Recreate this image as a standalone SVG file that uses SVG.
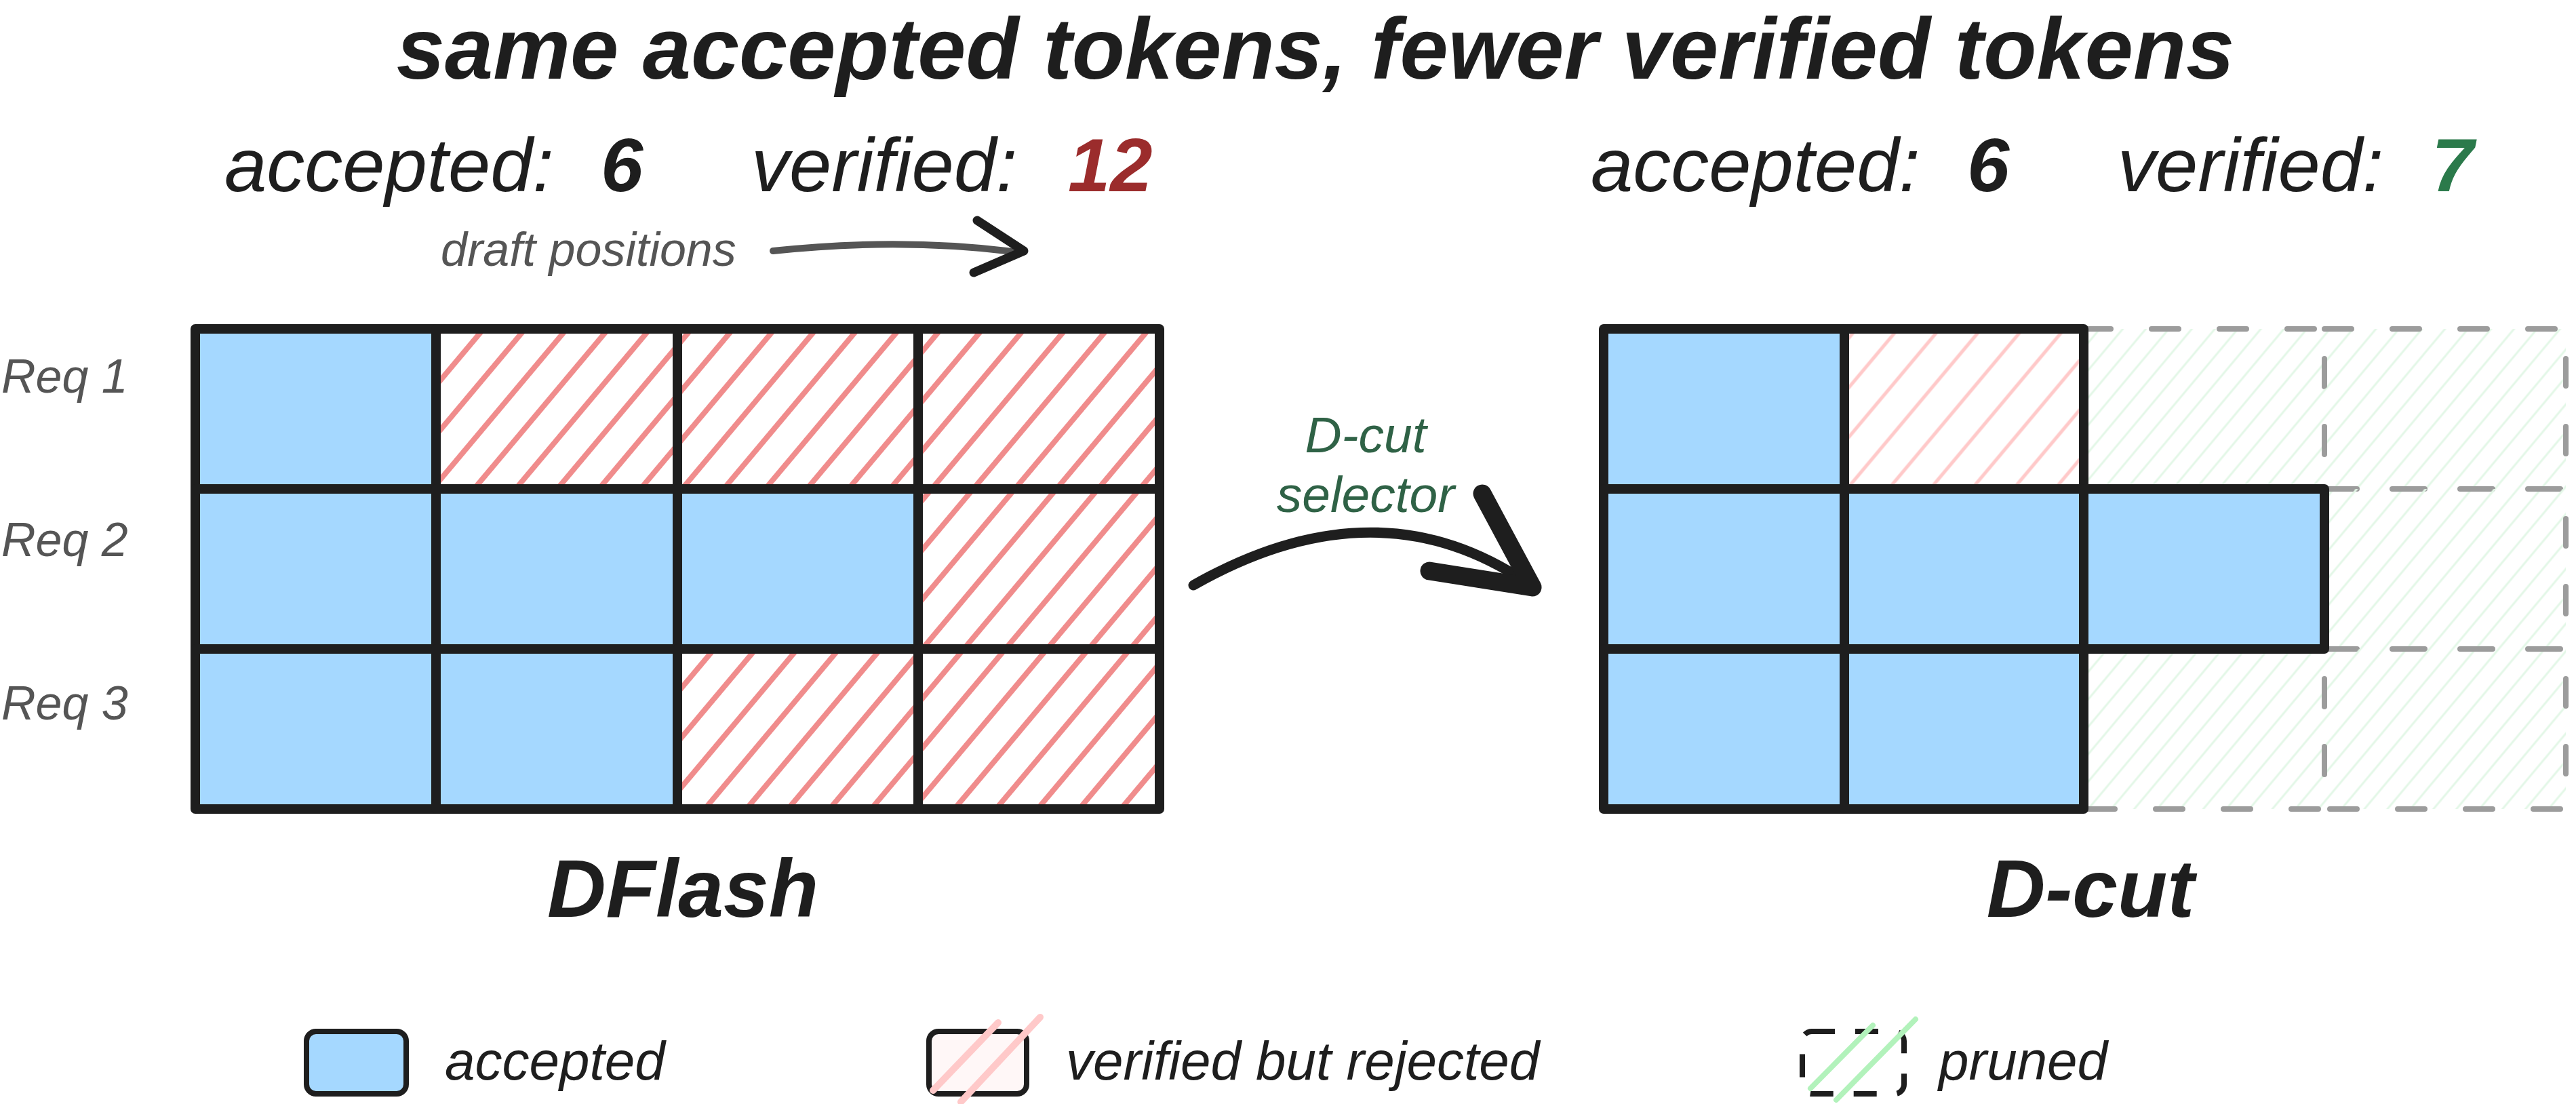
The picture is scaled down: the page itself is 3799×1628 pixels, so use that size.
<svg xmlns="http://www.w3.org/2000/svg" width="3799" height="1628" viewBox="0 0 3799 1628">
<defs>
  <pattern id="hRed" patternUnits="userSpaceOnUse" width="47" height="47" patternTransform="rotate(40)">
    <line x1="12" y1="-2" x2="12" y2="49" stroke="#f08c8c" stroke-width="8"/>
  </pattern>
  <pattern id="hPink" patternUnits="userSpaceOnUse" width="47" height="47" patternTransform="rotate(40)">
    <line x1="12" y1="-2" x2="12" y2="49" stroke="#ffc9c9" stroke-width="5"/>
  </pattern>
  <pattern id="hGreen" patternUnits="userSpaceOnUse" width="26" height="26" patternTransform="rotate(40)">
    <line x1="6" y1="-2" x2="6" y2="28" stroke="#e3f7e7" stroke-width="3"/>
  </pattern>
</defs>
<style>
  text { font-family: "Liberation Sans", Arial, sans-serif; fill: #1e1e1e; }
  .it { font-style: italic; }
  .bi { font-style: italic; font-weight: 700; }
  .stat { font-size: 112px; }
  .req { font-size: 70px; font-style: italic; fill: #555555; }
  .leg { font-size: 80px; font-style: italic; }
  .acc { fill: #a5d8ff; }
  .rej { fill: url(#hRed); }
  .rejl { fill: url(#hPink); }
  .pru { fill: url(#hGreen); }
  .edge { fill: none; stroke: #1e1e1e; stroke-width: 14; stroke-linejoin: round; stroke-linecap: round; }
  .dash { fill: none; stroke: #9c9c9c; stroke-width: 8; stroke-dasharray: 40 60; stroke-linecap: round; }
</style>
<rect width="3799" height="1628" fill="#ffffff"/>

<text x="1940" y="116" text-anchor="middle" font-size="128" class="bi">same accepted tokens, fewer verified tokens</text>

<g id="stats-dflash">
  <text x="331" y="282" class="stat it">accepted:</text>
  <text x="886" y="282" class="stat bi">6</text>
  <text x="1108" y="282" class="stat it">verified:</text>
  <text x="1575" y="282" class="stat bi" style="fill:#9b2c2c">12</text>
</g>
<g id="stats-dcut">
  <text x="2346" y="282" class="stat it">accepted:</text>
  <text x="2901" y="282" class="stat bi">6</text>
  <text x="3123" y="282" class="stat it">verified:</text>
  <text x="3586" y="282" class="stat bi" style="fill:#2b7a4b">7</text>
</g>

<text x="650" y="392" font-size="70" class="it" style="fill:#555555">draft positions</text>

<g id="req-labels">
  <text x="2" y="579" class="req">Req 1</text>
  <text x="2" y="820" class="req">Req 2</text>
  <text x="2" y="1061" class="req">Req 3</text>
</g>

<!-- D-cut pruned cells (drawn first, under solid borders) -->
<g id="dcut-r1c3"><rect class="pru" x="3073" y="485" width="355" height="236"/><rect class="dash" x="3073" y="485" width="355" height="236"/></g>
<g id="dcut-r1c4"><rect class="pru" x="3428" y="485" width="356" height="236"/><rect class="dash" x="3428" y="485" width="356" height="236"/></g>
<g id="dcut-r2c4"><rect class="pru" x="3428" y="721" width="356" height="236"/><rect class="dash" x="3428" y="721" width="356" height="236"/></g>
<g id="dcut-r3c3"><rect class="pru" x="3073" y="957" width="355" height="236"/><rect class="dash" x="3073" y="957" width="355" height="236"/></g>
<g id="dcut-r3c4"><rect class="pru" x="3428" y="957" width="356" height="236"/><rect class="dash" x="3428" y="957" width="356" height="236"/></g>

<!-- DFlash grid -->
<g id="dflash-r1c1"><rect class="acc" x="288" y="485" width="355" height="236"/><rect class="edge" x="288" y="485" width="355" height="236"/></g>
<g id="dflash-r1c2"><rect class="rej" x="643" y="485" width="356" height="236"/><rect class="edge" x="643" y="485" width="356" height="236"/></g>
<g id="dflash-r1c3"><rect class="rej" x="999" y="485" width="355" height="236"/><rect class="edge" x="999" y="485" width="355" height="236"/></g>
<g id="dflash-r1c4"><rect class="rej" x="1354" y="485" width="356" height="236"/><rect class="edge" x="1354" y="485" width="356" height="236"/></g>
<g id="dflash-r2c1"><rect class="acc" x="288" y="721" width="355" height="236"/><rect class="edge" x="288" y="721" width="355" height="236"/></g>
<g id="dflash-r2c2"><rect class="acc" x="643" y="721" width="356" height="236"/><rect class="edge" x="643" y="721" width="356" height="236"/></g>
<g id="dflash-r2c3"><rect class="acc" x="999" y="721" width="355" height="236"/><rect class="edge" x="999" y="721" width="355" height="236"/></g>
<g id="dflash-r2c4"><rect class="rej" x="1354" y="721" width="356" height="236"/><rect class="edge" x="1354" y="721" width="356" height="236"/></g>
<g id="dflash-r3c1"><rect class="acc" x="288" y="957" width="355" height="236"/><rect class="edge" x="288" y="957" width="355" height="236"/></g>
<g id="dflash-r3c2"><rect class="acc" x="643" y="957" width="356" height="236"/><rect class="edge" x="643" y="957" width="356" height="236"/></g>
<g id="dflash-r3c3"><rect class="rej" x="999" y="957" width="355" height="236"/><rect class="edge" x="999" y="957" width="355" height="236"/></g>
<g id="dflash-r3c4"><rect class="rej" x="1354" y="957" width="356" height="236"/><rect class="edge" x="1354" y="957" width="356" height="236"/></g>

<!-- D-cut grid (solid cells) -->
<g id="dcut-r1c1"><rect class="acc" x="2365" y="485" width="355" height="236"/><rect class="edge" x="2365" y="485" width="355" height="236"/></g>
<g id="dcut-r1c2"><rect class="rejl" x="2720" y="485" width="353" height="236"/><rect class="edge" x="2720" y="485" width="353" height="236"/></g>
<g id="dcut-r2c1"><rect class="acc" x="2365" y="721" width="355" height="236"/><rect class="edge" x="2365" y="721" width="355" height="236"/></g>
<g id="dcut-r2c2"><rect class="acc" x="2720" y="721" width="353" height="236"/><rect class="edge" x="2720" y="721" width="353" height="236"/></g>
<g id="dcut-r2c3"><rect class="acc" x="3073" y="721" width="355" height="236"/><rect class="edge" x="3073" y="721" width="355" height="236"/></g>
<g id="dcut-r3c1"><rect class="acc" x="2365" y="957" width="355" height="236"/><rect class="edge" x="2365" y="957" width="355" height="236"/></g>
<g id="dcut-r3c2"><rect class="acc" x="2720" y="957" width="353" height="236"/><rect class="edge" x="2720" y="957" width="353" height="236"/></g>

<text x="1007" y="1352" text-anchor="middle" font-size="120" class="bi">DFlash</text>
<text x="3083" y="1352" text-anchor="middle" font-size="120" class="bi">D-cut</text>

<g id="connectors">
  <g id="draft-arrow">
    <path d="M1140 370 Q1325 350 1494 371" fill="none" stroke="#555555" stroke-width="10" stroke-linecap="round"/>
    <polyline points="1441,325 1510,370 1436,402" fill="none" stroke="#1e1e1e" stroke-width="13" stroke-linecap="round" stroke-linejoin="round"/>
  </g>
  <g id="dcut-arrow">
    <path d="M1760 863 Q2029 710 2250 858" fill="none" stroke="#1e1e1e" stroke-width="15" stroke-linecap="round"/>
    <path d="M2186 728 L2260 866 L2108 842" fill="none" stroke="#1e1e1e" stroke-width="27" stroke-linecap="round" stroke-linejoin="round"/>
  </g>
</g>

<g id="dcut-selector-label">
  <text x="2014" y="667" text-anchor="middle" font-size="75" class="it" style="fill:#2f6246">D-cut</text>
  <text x="2014" y="755" text-anchor="middle" font-size="75" class="it" style="fill:#2f6246">selector</text>
</g>

<g id="legend">
  <g id="legend-accepted">
    <rect x="452" y="1521" width="147" height="92" rx="14" fill="#a5d8ff" stroke="#1e1e1e" stroke-width="8"/>
    <text x="656" y="1592" class="leg">accepted</text>
  </g>
  <g id="legend-rejected">
    <rect x="1370" y="1521" width="144" height="92" rx="14" fill="#fff7f7" stroke="#1e1e1e" stroke-width="8"/>
    <line x1="1472" y1="1508" x2="1376" y2="1608" stroke="#ffc9c9" stroke-width="10" stroke-linecap="round"/>
    <line x1="1534" y1="1500" x2="1417" y2="1625" stroke="#ffc9c9" stroke-width="10" stroke-linecap="round"/>
    <text x="1572" y="1592" class="leg">verified but rejected</text>
  </g>
  <g id="legend-pruned">
    <rect x="2658" y="1521" width="150" height="92" rx="14" fill="none" stroke="#1e1e1e" stroke-width="8" stroke-dasharray="34 30"/>
    <line x1="2762" y1="1512" x2="2670" y2="1605" stroke="#b2f2bb" stroke-width="8" stroke-linecap="round"/>
    <line x1="2825" y1="1503" x2="2708" y2="1622" stroke="#b2f2bb" stroke-width="8" stroke-linecap="round"/>
    <text x="2859" y="1592" class="leg">pruned</text>
  </g>
</g>
</svg>
